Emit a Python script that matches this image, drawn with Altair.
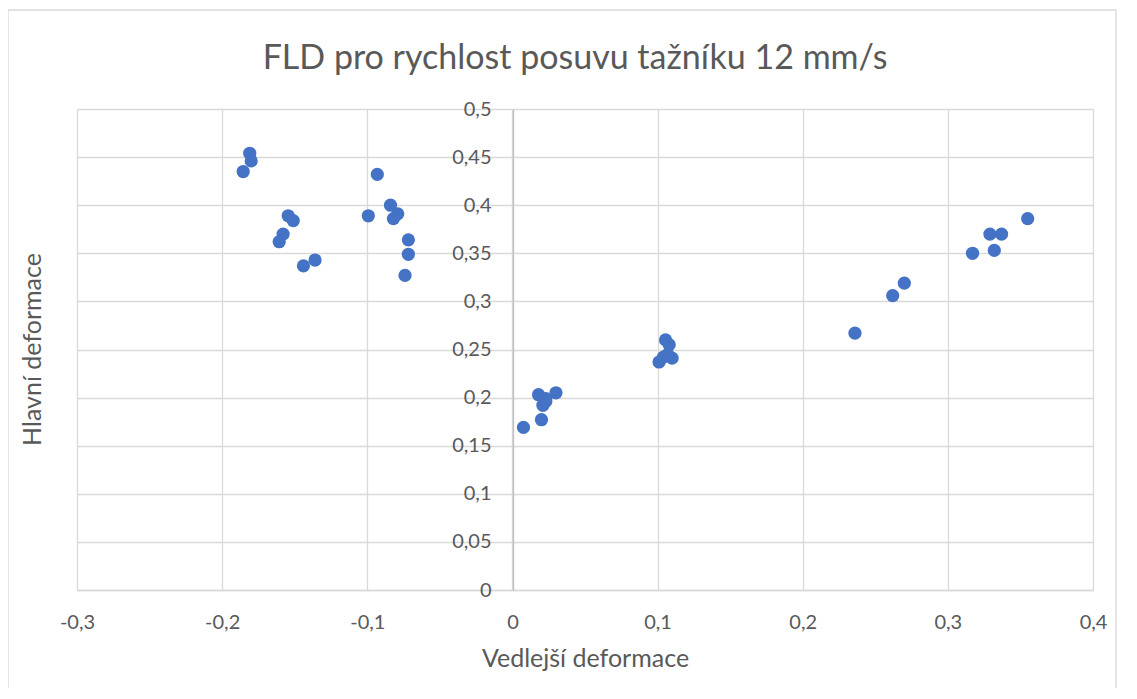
import altair as alt
import pandas as pd

# Vedlejší deformace (minor strain)
minor = [
    -0.181, -0.180, -0.1855, -0.1545, -0.151, -0.158, -0.1607, -0.144, -0.136,
    -0.0931, -0.0993, -0.084, -0.079, -0.082, -0.0717, -0.0717, -0.074,
    0.018, 0.030, 0.023, 0.021, 0.020, 0.0076, 0.023,
    0.1055, 0.108, 0.101, 0.104, 0.110, 0.107,
    0.355, 0.329, 0.337, 0.317, 0.332, 0.270, 0.262, 0.236,
]
# Hlavní deformace (major strain)
major = [
    0.454, 0.446, 0.435, 0.389, 0.384, 0.370, 0.362, 0.337, 0.343,
    0.432, 0.389, 0.400, 0.391, 0.386, 0.364, 0.349, 0.327,
    0.203, 0.205, 0.199, 0.192, 0.177, 0.169, 0.196,
    0.260, 0.255, 0.237, 0.242, 0.241, 0.245,
    0.386, 0.370, 0.370, 0.350, 0.353, 0.319, 0.306, 0.267,
]
x_ticks = [-0.3, -0.2, -0.1, 0, 0.1, 0.2, 0.3, 0.4]
y_ticks = [0, 0.05, 0.1, 0.15, 0.2, 0.25, 0.3, 0.35, 0.4, 0.45, 0.5]
title_text = "FLD pro rychlost posuvu tažníku 12 mm/s"
x_title = "Vedlejší deformace"
y_title = "Hlavní deformace"

df = pd.DataFrame({"x": minor, "y": major})

W, H = 1016, 481
label_expr = "(datum.value < 0 ? '-' : '') + replace(format(abs(datum.value), '~g'), '.', ',')"
font = "Lato"
gray = "#595959"

x_scale = alt.Scale(domain=[-0.3, 0.4], nice=False, zero=False)
y_scale = alt.Scale(domain=[0, 0.5], nice=False)

points = alt.Chart(df).mark_circle(size=175, opacity=1, color="#4472C4").encode(
    x=alt.X("x:Q", scale=x_scale,
            axis=alt.Axis(values=x_ticks, labelFlush=False,
                          labelExpr=label_expr, title=x_title,
                          grid=True, gridColor="#d9d9d9", gridWidth=1.3,
                          domainColor="#d9d9d9", domainWidth=1.3, ticks=False,
                          labelPadding=22, labelFontSize=20, labelColor=gray,
                          labelFont=font, titleFont=font, titleFontSize=25,
                          titleFontWeight="normal", titleColor=gray, titlePadding=14)),
    y=alt.Y("y:Q", scale=y_scale,
            axis=alt.Axis(values=y_ticks, labelFlush=False,
                          labelExpr=label_expr, title=None,
                          grid=True, gridColor="#d9d9d9", gridWidth=1.3,
                          domainColor="#bfbfbf", domainWidth=1.3, ticks=False,
                          offset=-436, labelPadding=22, labelFontSize=20,
                          labelColor=gray, labelFont=font)),
)

ytitle = alt.Chart(pd.DataFrame({"t": [y_title]})).mark_text(
    angle=270, font=font, fontSize=25, color=gray, align="center", baseline="middle"
).encode(text="t:N", x=alt.value(-44), y=alt.value(H / 2))

title = alt.Chart(pd.DataFrame({"t": [title_text]})).mark_text(
    font=font, fontSize=34, color=gray, align="center", baseline="middle"
).encode(text="t:N", x=alt.value(498), y=alt.value(-50))

frame = alt.Chart(pd.DataFrame({"a": [1]})).mark_rect(
    fill=None, stroke="#d9d9d9", strokeWidth=1.3
).encode(x=alt.value(-69), x2=alt.value(1039), y=alt.value(-99), y2=alt.value(620))

chart = alt.layer(frame, points, ytitle, title).properties(
    width=W, height=H,
    padding={"left": 69, "top": 101, "right": 24, "bottom": 98},
    autosize=alt.AutoSizeParams(type="none"),
).configure_view(stroke=None)

chart.save("out.html", embed_options={"renderer": "svg", "actions": False})
